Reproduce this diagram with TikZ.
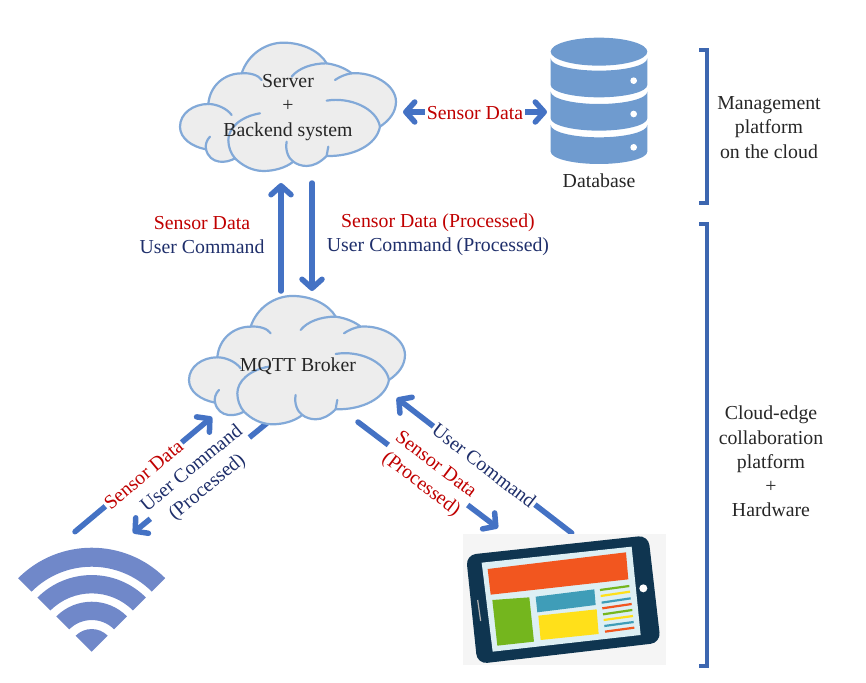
\documentclass[tikz,border=0pt]{standalone}
\usepackage{fontspec}
\setmainfont{Liberation Serif}
\usetikzlibrary{arrows.meta}
\definecolor{flowblue}{HTML}{4472C4}
\definecolor{cloudedge}{HTML}{82A9D8}
\definecolor{cloudfill}{HTML}{EDEDED}
\definecolor{dbblue}{HTML}{6F9BCF}
\definecolor{wifiblue}{HTML}{7088C9}
\definecolor{datared}{HTML}{C00000}
\definecolor{cmdnavy}{HTML}{1F2F6B}
\definecolor{tabletdark}{HTML}{0F3550}
\definecolor{tabletscreen}{HTML}{DDEFF4}
\definecolor{tabletorange}{HTML}{F2561F}
\definecolor{tabletgreen}{HTML}{74B61E}
\definecolor{tabletteal}{HTML}{3F9DB8}
\definecolor{tabletyellow}{HTML}{FFE01A}
\tikzset{
	flowarrow/.style={line width=5.5pt, color=flowblue, line cap=round, -{Straight Barb[round,length=9pt,width=20pt]}},
	flowboth/.style={flowarrow, {Straight Barb[round,length=9pt,width=20pt]}-{Straight Barb[round,length=9pt,width=20pt]}},
	textlabel/.style={inner sep=1pt, align=center, text=black!85},
	redlabel/.style={inner sep=1.5pt, align=center, text=datared},
	navylabel/.style={inner sep=1.5pt, align=center, text=cmdnavy},
	bracketline/.style={line width=4pt, color=flowblue!90!black},
	cloudline/.style={line width=2.2pt, color=cloudedge, line cap=round, line join=round},
	tabletstripe/.style={line width=2.2pt}
}
\def\cloudshape#1#2{
	\begin{scope}[shift={(#1,#2)},x=0.3333pt,y=-0.3333pt]
		\draw[cloudline, fill=cloudfill] (145,222) .. controls (150,165) and (195,130) .. (245,130)
			.. controls (265,70) and (320,38) .. (370,38) .. controls (430,38) and (480,65) .. (500,100)
			.. controls (535,105) and (560,118) .. (575,130)
			.. controls (640,125) and (708,165) .. (708,215) .. controls (708,245) and (690,270) .. (660,290)
			.. controls (650,345) and (580,380) .. (500,378)
			.. controls (480,398) and (460,408) .. (440,408) .. controls (425,408) and (410,403) .. (400,395)
			.. controls (375,415) and (340,423) .. (310,423) .. controls (275,423) and (245,405) .. (225,385)
			.. controls (200,400) and (150,405) .. (138,358)
			.. controls (95,350) and (60,325) .. (60,290) .. controls (60,250) and (100,222) .. (145,222) -- cycle;
		\draw[cloudline] (395,140) .. controls (415,115) and (455,100) .. (500,100);
		\draw[cloudline] (525,150) .. controls (540,140) and (555,133) .. (575,130);
		\draw[cloudline] (500,212) .. controls (570,200) and (650,235) .. (660,290);
		\draw[cloudline] (380,335) .. controls (375,360) and (385,385) .. (400,395);
		\draw[cloudline] (505,350) .. controls (503,360) .. (500,378);
		\draw[cloudline] (300,250) .. controls (240,260) and (205,295) .. (205,330) .. controls (205,350) and (212,370) .. (225,385);
		\draw[cloudline] (150,320) .. controls (140,330) and (135,345) .. (138,358);
		\draw[cloudline] (215,255) .. controls (200,235) and (170,222) .. (145,222);
		\draw[cloudline] (245,130) .. controls (270,128) and (295,135) .. (305,150);
	\end{scope}
}
\def\wifiband#1#2{\fill[wifiblue] (225:#2) arc[start angle=225, end angle=315, radius=#2] -- (315:#1) arc[start angle=315, end angle=225, radius=#1] -- cycle;}
\def\dbband#1{\fill[dbblue] (62,#1) arc[start angle=180, end angle=0, x radius=145, y radius=37] -- (352,#1+80) arc[start angle=0, end angle=180, x radius=145, y radius=37] -- cycle;}

\begin{document}
\begin{tikzpicture}[x=1pt, y=-1pt, font=\fontsize{19.8}{24.2}\selectfont]
	\useasboundingbox (0,0) rectangle (866,682);

	%%%%% ARROWS %%%%%
	\coordinate (dbleft) at (403,112);
	\coordinate (dbright) at (547,112);
	\coordinate (upfoot) at (281,291);
	\coordinate (uptop) at (281,183);
	\coordinate (downtop) at (312,183);
	\coordinate (downfoot) at (312,291);
	\coordinate (wifidata) at (75,531.7);
	\coordinate (brokerin) at (212,417);
	\coordinate (brokerout) at (266.7,423.3);
	\coordinate (wificmd) at (133,533);
	\coordinate (brokerdown) at (358,422);
	\coordinate (tabletin) at (498,528);
	\coordinate (tabletcmd) at (571.7,533);
	\coordinate (brokerup) at (396.7,398);

	\draw[flowboth] (dbleft) -- node[redlabel, fill=white, yshift=-1.5pt] (dblabel) {Sensor Data} (dbright);
	\draw[flowarrow] (upfoot) -- (uptop);
	\draw[flowarrow] (downtop) -- (downfoot);
	\draw[flowarrow] (wifidata) -- node[redlabel, fill=white, sloped] (wifidatalabel) {Sensor Data} (brokerin);
	\draw[flowarrow] (brokerout) -- node[navylabel, fill=white, sloped] (wificmdlabel) {User Command\\(Processed)} (wificmd);
	\draw[flowarrow] (brokerdown) -- node[redlabel, fill=white, sloped] (tabletdatalabel) {Sensor Data\\(Processed)} (tabletin);
	\draw[flowarrow] (tabletcmd) -- node[navylabel, fill=white, sloped] (tabletcmdlabel) {User Command} (brokerup);

	%%%%% CLOUDS %%%%%
	\cloudshape{160}{30}
	\cloudshape{169}{283.3}
	\node[textlabel] (server) at (288,107.5) {Server\\+\\Backend system};
	\node[textlabel] (broker) at (298,366) {MQTT Broker};

	\node[redlabel] (updata) at (202,223) {Sensor Data};
	\node[navylabel] (upcmd) at (202,247) {User Command};
	\node[redlabel] (downdata) at (438,223) {Sensor Data (Processed)};
	\node[navylabel] (downcmd) at (438,247) {User Command (Processed)};

	%%%%% DATABASE %%%%%
	\begin{scope}[shift={(530,30)}, x=0.3333pt, y=-0.3333pt]
		\fill[dbblue] (207,65) ellipse [x radius=145, y radius=42];
		\dbband{85}
		\dbband{185}
		\dbband{285}
		\fill[white] (311,152) circle (10);
		\fill[white] (311,252) circle (10);
		\fill[white] (311,352) circle (10);
	\end{scope}
	\node[textlabel] (database) at (599,180.5) {Database};

	%%%%% WIFI %%%%%
	\begin{scope}[shift={(91.7,651.7)}, x=0.3333pt, y=-0.3333pt]
		\wifiband{255}{312}
		\wifiband{175}{230}
		\wifiband{95}{150}
		\fill[wifiblue] (0,0) -- (225:68) arc[start angle=225, end angle=315, radius=68] -- cycle;
	\end{scope}

	%%%%% TABLET %%%%%
	\begin{scope}[shift={(450,520)}, x=0.3333pt, y=-0.3333pt]
		\fill[black!4] (38,42) rectangle (648,435);
		\fill[tabletdark, rounded corners=10pt] (48,105) -- (595,46) -- (632,368) -- (82,432) -- cycle;
		\fill[tabletscreen] (95,128) -- (545,80) -- (572,345) -- (128,395) -- cycle;
		\fill[tabletorange] (113,147) -- (528,97) -- (535,178) -- (122,224) -- cycle;
		\fill[tabletgreen] (127,240) -- (238,232) -- (252,365) -- (142,377) -- cycle;
		\fill[tabletteal] (257,230) -- (433,208) -- (437,255) -- (262,277) -- cycle;
		\fill[tabletyellow] (265,287) -- (440,268) -- (446,342) -- (272,360) -- cycle;
		\draw[tabletstripe, tabletgreen] (450,210) -- (538,198);
		\draw[tabletstripe, tabletyellow] (452,228) -- (540,215);
		\draw[tabletstripe, tabletteal] (455,248) -- (542,235);
		\draw[tabletstripe, tabletorange] (457,265) -- (545,252);
		\draw[tabletstripe, tabletgreen] (459,283) -- (547,270);
		\draw[tabletstripe, tabletyellow] (461,300) -- (549,288);
		\draw[tabletstripe, tabletteal] (463,318) -- (551,306);
		\draw[tabletstripe, tabletorange] (465,335) -- (553,323);
		\fill[white] (580,205) circle (12);
		\draw[line width=1.2pt, black!30] (83,240) -- (92,303);
	\end{scope}

	%%%%% BRACKETS %%%%%
	\draw[bracketline] (699,50) -- (707,50) -- (707,203) -- (699,203);
	\draw[bracketline] (699,224) -- (707,224) -- (707,666) -- (699,666);
	\node[textlabel] (cloudside) at (769,127.5) {Management\\platform\\on the cloud};
	\node[textlabel] (edgeside) at (771,461.5) {Cloud-edge\\collaboration\\platform\\+\\Hardware};
\end{tikzpicture}
\end{document}
